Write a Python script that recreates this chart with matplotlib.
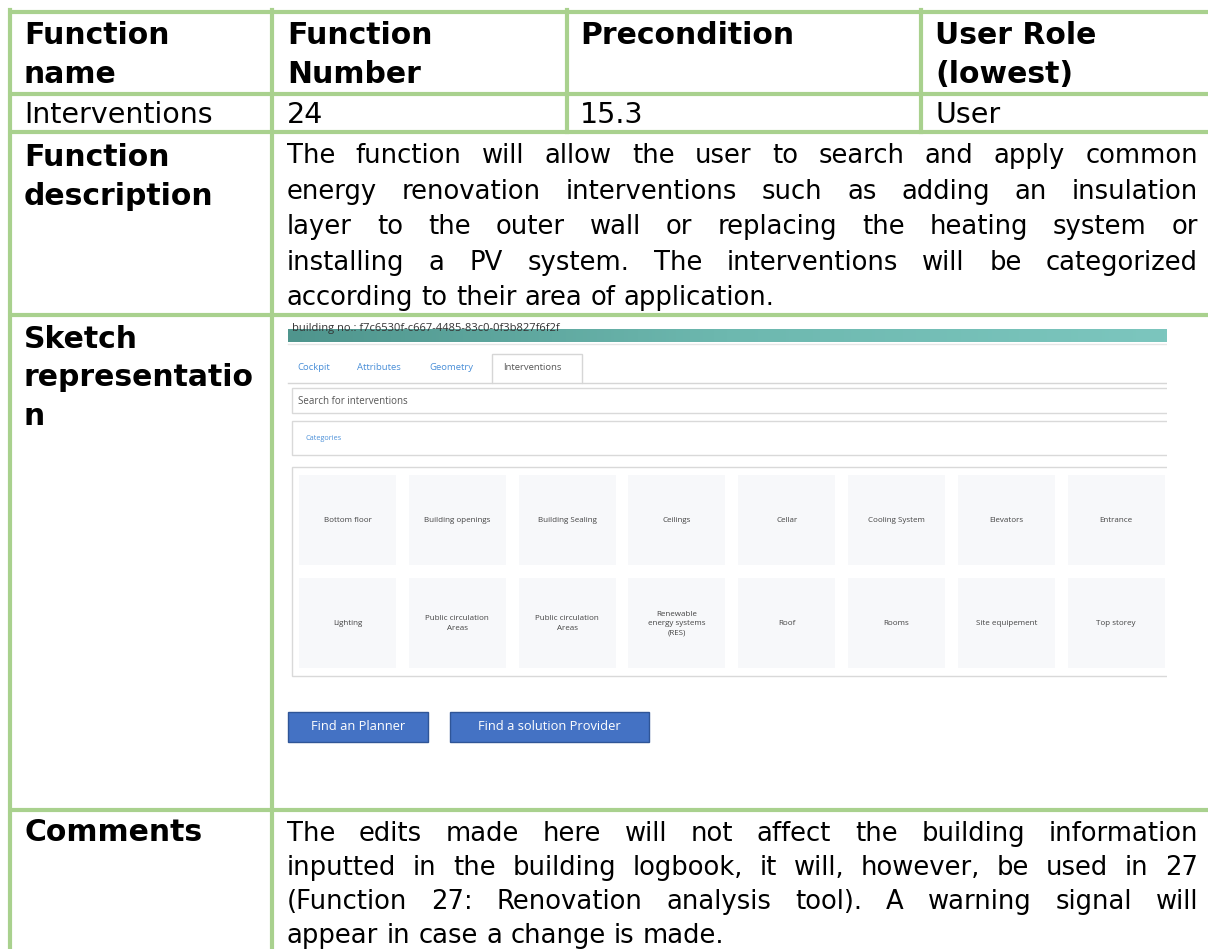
import matplotlib
matplotlib.use("Agg")
import matplotlib.pyplot as plt
from matplotlib.patches import Rectangle
import numpy as np

# table text
header = ["Function\nname", "Function\nNumber", "Precondition", "User Role\n(lowest)"]
values = ["Interventions", "24", "15.3", "User"]
desc_label = "Function\ndescription"
desc_lines = [
    "The function will allow the user to search and apply common",
    "energy renovation interventions such as adding an insulation",
    "layer to the outer wall or replacing the heating system or",
    "installing a PV system. The interventions will be categorized",
    "according to their area of application.",
]
sketch_label = "Sketch\nrepresentatio\nn"
comment_label = "Comments"
comment_lines = [
    "The edits made here will not affect the building information",
    "inputted in the building logbook, it will, however, be used in 27",
    "(Function 27: Renovation analysis tool). A warning signal will",
    "appear in case a change is made.",
]

# mock-up text
tabs = ["Cockpit", "Attributes", "Geometry", "Interventions"]
tiles_row1 = ["Bottom floor", "Building openings", "Building Sealing", "Ceilings",
              "Cellar", "Cooling System", "Elevators", "Entrance"]
tiles_row2 = ["Lighting", "Public circulation\nAreas", "Public circulation\nAreas",
              "Renewable\nenergy systems\n(RES)", "Roof", "Rooms", "Site equipement", "Top storey"]
buttons = ["Find an Planner", "Find a solution Provider"]

GREEN = "#A9D18E"
FONT = "DejaVu Sans"
UI = "Open Sans"
BOLD = 21.5
NORMAL = 18.6

fig = plt.figure(figsize=(12.08, 9.49), dpi=100)
ax = fig.add_axes([0, 0, 1, 1])
ax.set_xlim(0, 1208)
ax.set_ylim(949, 0)
ax.axis("off")
r = fig.canvas.get_renderer()

# grid lines
col_x = [10, 272, 567, 921]
row_y = [12, 94, 132, 315, 810]
lw = 3.0
for y in row_y:
    ax.plot([8, 1208], [y, y], color=GREEN, lw=lw, solid_capstyle="butt", zorder=10)
ax.plot([col_x[0]] * 2, [10, 949], color=GREEN, lw=lw, zorder=10)
ax.plot([col_x[1]] * 2, [10, 949], color=GREEN, lw=lw, zorder=10)
for x in col_x[2:]:
    ax.plot([x, x], [10, row_y[2]], color=GREEN, lw=lw, zorder=10)


def bold_lines(x, y0, txt, step=38.5):
    for i, s in enumerate(txt.split("\n")):
        ax.text(x, y0 + i * step, s, fontsize=BOLD, fontweight="bold", family=FONT, va="baseline")


text_x = [24, 287, 580, 935]
for x, h in zip(text_x, header):
    bold_lines(x, 44, h)
for x, v in zip(text_x, values):
    ax.text(x, 123, v, fontsize=20.5, family=FONT, va="baseline")

bold_lines(24, 166, desc_label)
bold_lines(24, 348, sketch_label)
bold_lines(24, 841, comment_label)


def justify(lines, x0, x1, y0, step, size):
    sp = ax.text(0, 0, "a a", fontsize=size, family=FONT)
    one = ax.text(0, 0, "aa", fontsize=size, family=FONT)
    space = sp.get_window_extent(r).width - one.get_window_extent(r).width
    sp.remove()
    one.remove()
    for i, line in enumerate(lines):
        y = y0 + i * step
        words = line.split(" ")
        ts = [ax.text(0, y, w, fontsize=size, family=FONT, va="baseline") for w in words]
        ws = [t.get_window_extent(r).width for t in ts]
        if i == len(lines) - 1:
            gap = space
        else:
            gap = (x1 - x0 - sum(ws)) / (len(words) - 1)
        x = x0
        for t, w in zip(ts, ws):
            t.set_x(x)
            x += w + gap


justify(desc_lines, 287, 1198, 163, 35.5, NORMAL)
justify(comment_lines, 287, 1198, 841, 34, NORMAL)

# ---- sketch mock-up ----
grad = np.linspace(0, 1, 256).reshape(1, -1)
cm = matplotlib.colors.LinearSegmentedColormap.from_list("teal", ["#4F958D", "#6DB8AF", "#7CC6BE"])
ax.imshow(grad, cmap=cm, extent=(288, 1167, 342, 329), aspect="auto", zorder=1)
ax.set_xlim(0, 1208)
ax.set_ylim(949, 0)
t = ax.text(292, 328, "building no.: f7c6530f-c667-4485-83c0-0f3b827f6f2f", fontsize=8,
            family=UI, color="#333333", va="center", zorder=2)
t.set_clip_path(Rectangle((288, 326), 880, 7, transform=ax.transData))
ax.plot([288, 1167], [343.5, 343.5], color="#e6e6e6", lw=1)

tab_x = [297, 357, 429]
for x, name in zip(tab_x, tabs[:3]):
    ax.text(x, 368, name, fontsize=6.8, family=UI, color="#4a8fd8", va="center")
ax.add_patch(Rectangle((492, 354), 90, 29, fc="white", ec="#d6d6d6", lw=1, zorder=3))
ax.text(503, 368, tabs[3], fontsize=6.8, family=UI, color="#555555", va="center", zorder=4)
ax.plot([288, 492], [383, 383], color="#d6d6d6", lw=1)
ax.plot([582, 1167], [383, 383], color="#d6d6d6", lw=1)

ax.add_patch(Rectangle((292, 388), 880, 25, fc="white", ec="#d9d9d9", lw=1))
ax.text(298, 401, "Search for interventions", fontsize=7, family=UI, color="#555555", va="center")
ax.add_patch(Rectangle((292, 421), 880, 34, fc="white", ec="#d9d9d9", lw=1))
ax.text(305, 438, "Categories", fontsize=5.2, family=UI, color="#4a8fd8", va="center")
ax.add_patch(Rectangle((292, 467), 880, 209, fc="white", ec="#d9d9d9", lw=1))

for row, (labels, y0) in enumerate([(tiles_row1, 475), (tiles_row2, 578)]):
    for i, lab in enumerate(labels):
        x0 = 299 + i * 109.8
        ax.add_patch(Rectangle((x0, y0), 97, 90, fc="#F7F8FA", ec="none", zorder=2))
        ax.text(x0 + 48.5, y0 + 45.5, lab, fontsize=5.8, family=UI, color="#444444",
                ha="center", va="center", linespacing=1.5, zorder=3)
ax.add_patch(Rectangle((1167, 318), 41, 489, fc="white", ec="none", zorder=5))

btn_x = [(288, 140), (450, 199)]
for (x0, w), lab in zip(btn_x, buttons):
    ax.add_patch(Rectangle((x0, 712), w, 30, fc="#4472C4", ec="#2F5597", lw=1))
    ax.text(x0 + w / 2, 727, lab, fontsize=9.3, family=UI, color="white",
            ha="center", va="center")

fig.savefig("out.png", dpi=100)
